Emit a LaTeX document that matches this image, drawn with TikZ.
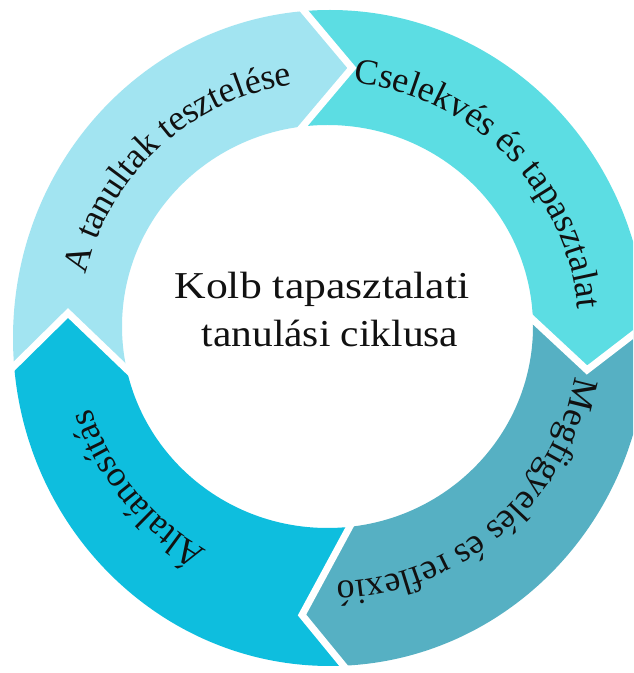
\documentclass[tikz,border=0pt]{standalone}
\usepackage{fontspec}
\setmainfont{Liberation Serif}
\usetikzlibrary{decorations.text}
\definecolor{segTL}{HTML}{A2E4F1}
\definecolor{segTR}{HTML}{5CDDE3}
\definecolor{segBR}{HTML}{56B0C3}
\definecolor{segBL}{HTML}{0EBEDE}
\definecolor{ink}{HTML}{111111}
\newcommand\ringfont{\fontsize{36}{40}\selectfont\color{ink}}
\tikzset{
  gapline/.style={white, line width=7pt, line join=miter},
  ringtext/.style={decorate, decoration={text along path, text align=center, text={|\ringfont|#1}}},
  centertext/.style={anchor=base, text=ink, font=\fontsize{38}{44}\selectfont, inner sep=0pt}
}
\begin{document}
\begin{tikzpicture}[x=1pt,y=1pt]
\useasboundingbox (0,0) rectangle (633,673);
\fill[white] (0,0) rectangle (633,673);
\clip (0,0) rectangle (633,673);
\coordinate (C) at (328,338);
\coordinate (I1) at (287,528); \coordinate (T1) at (352,605); \coordinate (O1) at (289,680);
\coordinate (I2) at (515,370); \coordinate (T2) at (587,303); \coordinate (O2) at (665,363);
\coordinate (I3) at (362,169); \coordinate (T3) at (302,58);  \coordinate (O3) at (361,-14);
\coordinate (I4) at (141,290); \coordinate (T4) at (68,360);  \coordinate (O4) at (-4,289);
% top-left segment
\begin{scope}
\clip (C) -- (I4) -- (T4) -- (O4) -- (-150,800) -- (O1) -- (T1) -- (I1) -- cycle;
\fill[segTL, even odd rule] (330,335) ellipse [x radius=317, y radius=328] (327.5,346.5) ellipse [x radius=205.5, y radius=201.5];
\end{scope}
% top-right segment
\begin{scope}
\clip (C) -- (I1) -- (T1) -- (O1) -- (800,800) -- (O2) -- (T2) -- (I2) -- cycle;
\fill[segTR, even odd rule] (330,335) ellipse [x radius=317, y radius=328] (327.5,346.5) ellipse [x radius=205.5, y radius=201.5];
\end{scope}
% bottom-right segment
\begin{scope}
\clip (C) -- (I2) -- (T2) -- (O2) -- (800,-150) -- (O3) -- (T3) -- (I3) -- cycle;
\fill[segBR, even odd rule] (330,335) ellipse [x radius=317, y radius=328] (327.5,346.5) ellipse [x radius=205.5, y radius=201.5];
\end{scope}
% bottom-left segment
\begin{scope}
\clip (C) -- (I3) -- (T3) -- (O3) -- (-150,-150) -- (O4) -- (T4) -- (I4) -- cycle;
\fill[segBL, even odd rule] (330,335) ellipse [x radius=317, y radius=328] (327.5,346.5) ellipse [x radius=205.5, y radius=201.5];
\end{scope}
% white gaps
\draw[gapline] (I1) -- (T1) -- (O1);
\draw[gapline] (I2) -- (T2) -- (O2);
\draw[gapline] (I3) -- (T3) -- (O3);
\draw[gapline] (I4) -- (T4) -- (O4);
% ring texts
\path[ringtext={A tanultak tesztelése}, shift={(329,341)}] (177.5:250) arc[start angle=177.5, end angle=87.5, radius=250];
\path[ringtext={Cselekvés és tapasztalat}, shift={(329,341)}] (89.8:250) arc[start angle=89.8, end angle=-0.2, radius=250];
\path[ringtext={Megfigyelés és reflexió}, shift={(329,341)}] (-4.2:250) arc[start angle=-4.2, end angle=-94.2, radius=250];
\path[ringtext={Általánosítás}, shift={(329,341)}] (264.3:250) arc[start angle=264.3, end angle=174.3, radius=250];
% center
\node[centertext] (title1) at (322,374) {\scalebox{1.15}[1]{Kolb tapasztalati}};
\node[centertext] (title2) at (330,326) {\scalebox{1.09}[1]{tanulási ciklusa}};
\end{tikzpicture}
\end{document}
